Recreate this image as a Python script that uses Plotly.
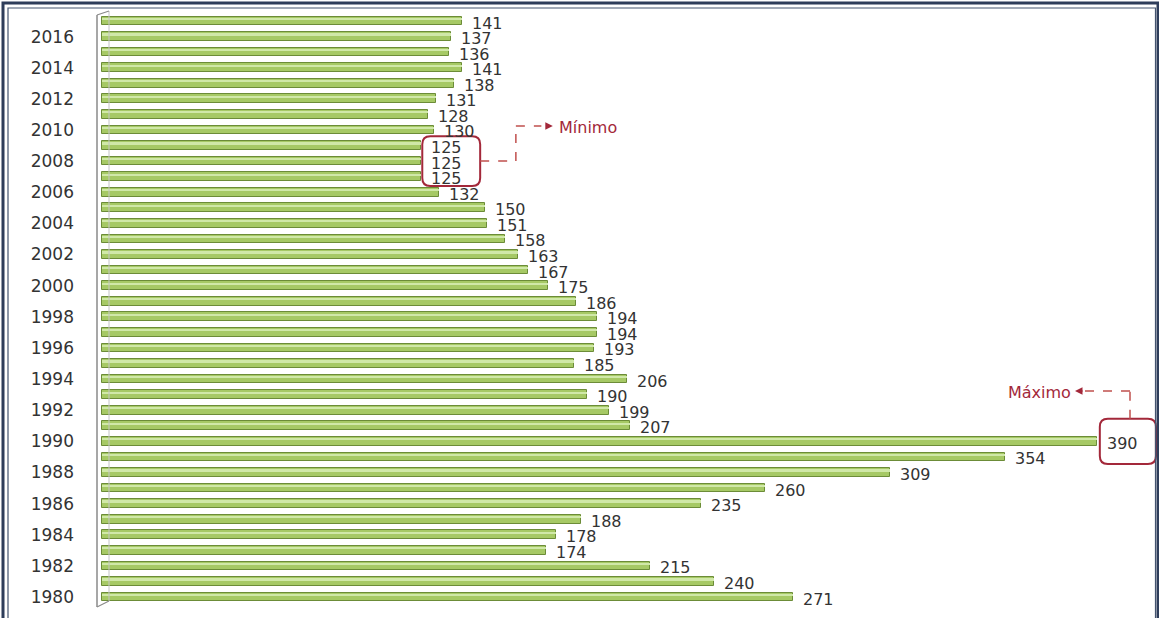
import plotly.graph_objects as go

# Years (top of chart = most recent) and their values
years = list(range(2017, 1979, -1))
values = [141, 137, 136, 141, 138, 131, 128, 130, 125, 125, 125, 132, 150, 151,
          158, 163, 167, 175, 186, 194, 194, 193, 185, 206, 190, 199, 207, 390,
          354, 309, 260, 235, 188, 178, 174, 215, 240, 271]
tick_years = list(range(1980, 2017, 2))
tick_labels = [str(y) for y in tick_years]

W, H = 1159, 618
ML, MR, MT, MB = 97, 1, 10, 10
PW, PH = W - ML - MR, H - MT - MB

# pixel geometry of the value scale
X0_PX = 102.0          # where a value of 0 sits
KX = 2.55              # px per unit
Y_TOP_PX, Y_BOT_PX = 21.0, 597.0   # centres of first / last bar
KY = (Y_BOT_PX - Y_TOP_PX) / (len(years) - 1)


def px_to_x(px):
    return (px - X0_PX) / KX


def py_to_y(py):
    return years[0] - (py - Y_TOP_PX) / KY


def paper_x(px):
    return (px - ML) / PW


def paper_y(py):
    return 1 - (py - MT) / PH


x_range = [px_to_x(ML), px_to_x(W - MR)]
y_range = [py_to_y(MT + PH), py_to_y(MT)]

RED = "#a3283a"
DASH_RED = "#c0504d"
TEXT = "#333333"
FONT = "DejaVu Sans"

fig = go.Figure()

# bar body
fig.add_trace(go.Bar(
    x=values, y=years, orientation="h",
    width=0.56,
    marker=dict(color="#a6c965", line=dict(color="#6c8c38", width=1)),
    hoverinfo="skip", showlegend=False,
))
# lighter upper band giving the rounded look
fig.add_trace(go.Bar(
    x=values, y=years, orientation="h",
    width=0.14, offset=0.06,
    marker=dict(color="#d0e8a8", line=dict(width=0)),
    hoverinfo="skip", showlegend=False,
))

annotations = []
for y, v in zip(years, values):
    annotations.append(dict(
        x=v, y=y, xref="x", yref="y", text=str(v), showarrow=False,
        xanchor="left", yanchor="middle", xshift=8, yshift=-2,
        font=dict(family=FONT, size=16, color=TEXT),
    ))

shapes = []


def rounded_box(x0, x1, y0, y1, r_px=8):
    rx, ry = r_px / KX, r_px / KY
    p = (f"M {x0+rx},{y0} L {x1-rx},{y0} Q {x1},{y0} {x1},{y0+ry} "
         f"L {x1},{y1-ry} Q {x1},{y1} {x1-rx},{y1} L {x0+rx},{y1} "
         f"Q {x0},{y1} {x0},{y1-ry} L {x0},{y0+ry} Q {x0},{y0} {x0+rx},{y0} Z")
    return dict(type="path", path=p, xref="x", yref="y",
                line=dict(color=RED, width=2), fillcolor="rgba(0,0,0,0)",
                layer="above")


def dashed(x0, y0, x1, y1):
    return dict(type="line", x0=x0, y0=y0, x1=x1, y1=y1, xref="x", yref="y",
                line=dict(color=DASH_RED, width=1.5, dash="dash"), layer="above")


# --- minimum callout ---
vmin = min(values)
min_years = [y for y, v in zip(years, values) if v == vmin]
mid_min = sum(min_years) / len(min_years)
bx0, bx1 = vmin + 0.6, vmin + 23.3
by0, by1 = min(min_years) - 0.6, max(min_years) + 0.6
shapes.append(rounded_box(bx0, bx1, by0, by1))
kx1 = bx1 + 14
ky = py_to_y(126)
shapes.append(dashed(bx1, mid_min, kx1, mid_min))
shapes.append(dashed(kx1, mid_min, kx1, ky))
shapes.append(dashed(kx1, ky, kx1 + 10, ky))
annotations.append(dict(x=kx1 + 14.5, y=ky, xref="x", yref="y", text="",
                        showarrow=True, ax=-8, ay=0, arrowhead=2, arrowsize=1,
                        arrowwidth=1.5, arrowcolor=RED))
annotations.append(dict(x=kx1 + 16, y=ky, xref="x", yref="y", text="Mínimo",
                        showarrow=False, xanchor="left", yanchor="middle",
                        yshift=-1, font=dict(family=FONT, size=16, color=RED)))

# --- maximum callout ---
vmax = max(values)
ymax = years[values.index(vmax)]
mx0, mx1 = vmax + 1.3, vmax + 23.3
my0, my1 = ymax - 1.45, ymax + 1.45
shapes.append(rounded_box(mx0, mx1, my0, my1))
lx = px_to_x(1130)
ly = py_to_y(391)
shapes.append(dashed(lx, my1, lx, ly))
shapes.append(dashed(lx, ly, px_to_x(1085), ly))
annotations.append(dict(x=px_to_x(1075), y=ly, xref="x", yref="y", text="",
                        showarrow=True, ax=9, ay=0, arrowhead=2, arrowsize=1,
                        arrowwidth=1.5, arrowcolor=RED))
annotations.append(dict(x=px_to_x(1073), y=ly, xref="x", yref="y", text="Máximo",
                        showarrow=False, xanchor="right", yanchor="middle",
                        yshift=-1, font=dict(family=FONT, size=16, color=RED)))


def pline(x0, y0, x1, y1, color, width):
    return dict(type="line", xref="paper", yref="paper",
                x0=paper_x(x0), y0=paper_y(y0), x1=paper_x(x1), y1=paper_y(y1),
                line=dict(color=color, width=width), layer="above")


# 3D-style axis wall
shapes += [
    pline(109, 11, 109, 601, "#c4c4c4", 1),
    pline(97, 15, 97, 607, "#8a8a8a", 1.5),
    pline(97, 15, 109, 11, "#8a8a8a", 1.2),
    pline(97, 607, 109, 601, "#8a8a8a", 1.2),
]

# double frame around the figure
shapes += [
    dict(type="rect", xref="paper", yref="paper",
         x0=paper_x(3), y0=paper_y(640), x1=paper_x(1158), y1=paper_y(3),
         line=dict(color="#2e3d5a", width=3), fillcolor="rgba(0,0,0,0)",
         layer="above"),
    dict(type="rect", xref="paper", yref="paper",
         x0=paper_x(8), y0=paper_y(640), x1=paper_x(1155.5), y1=paper_y(8),
         line=dict(color="#44546f", width=1.2), fillcolor="rgba(0,0,0,0)",
         layer="above"),
]

fig.update_layout(
    width=W, height=H,
    margin=dict(l=ML, r=MR, t=MT, b=MB, autoexpand=False),
    paper_bgcolor="white", plot_bgcolor="white",
    barmode="overlay", bargap=0,
    showlegend=False,
    annotations=annotations,
    shapes=shapes,
    xaxis=dict(range=x_range, visible=False, fixedrange=True),
    yaxis=dict(range=y_range, tickmode="array", tickvals=tick_years,
               ticktext=tick_labels, ticks="", showgrid=False, zeroline=False,
               showline=False, ticklabelstandoff=22,
               tickfont=dict(family=FONT, size=17, color=TEXT),
               fixedrange=True),
)

fig.write_html("out.html")
